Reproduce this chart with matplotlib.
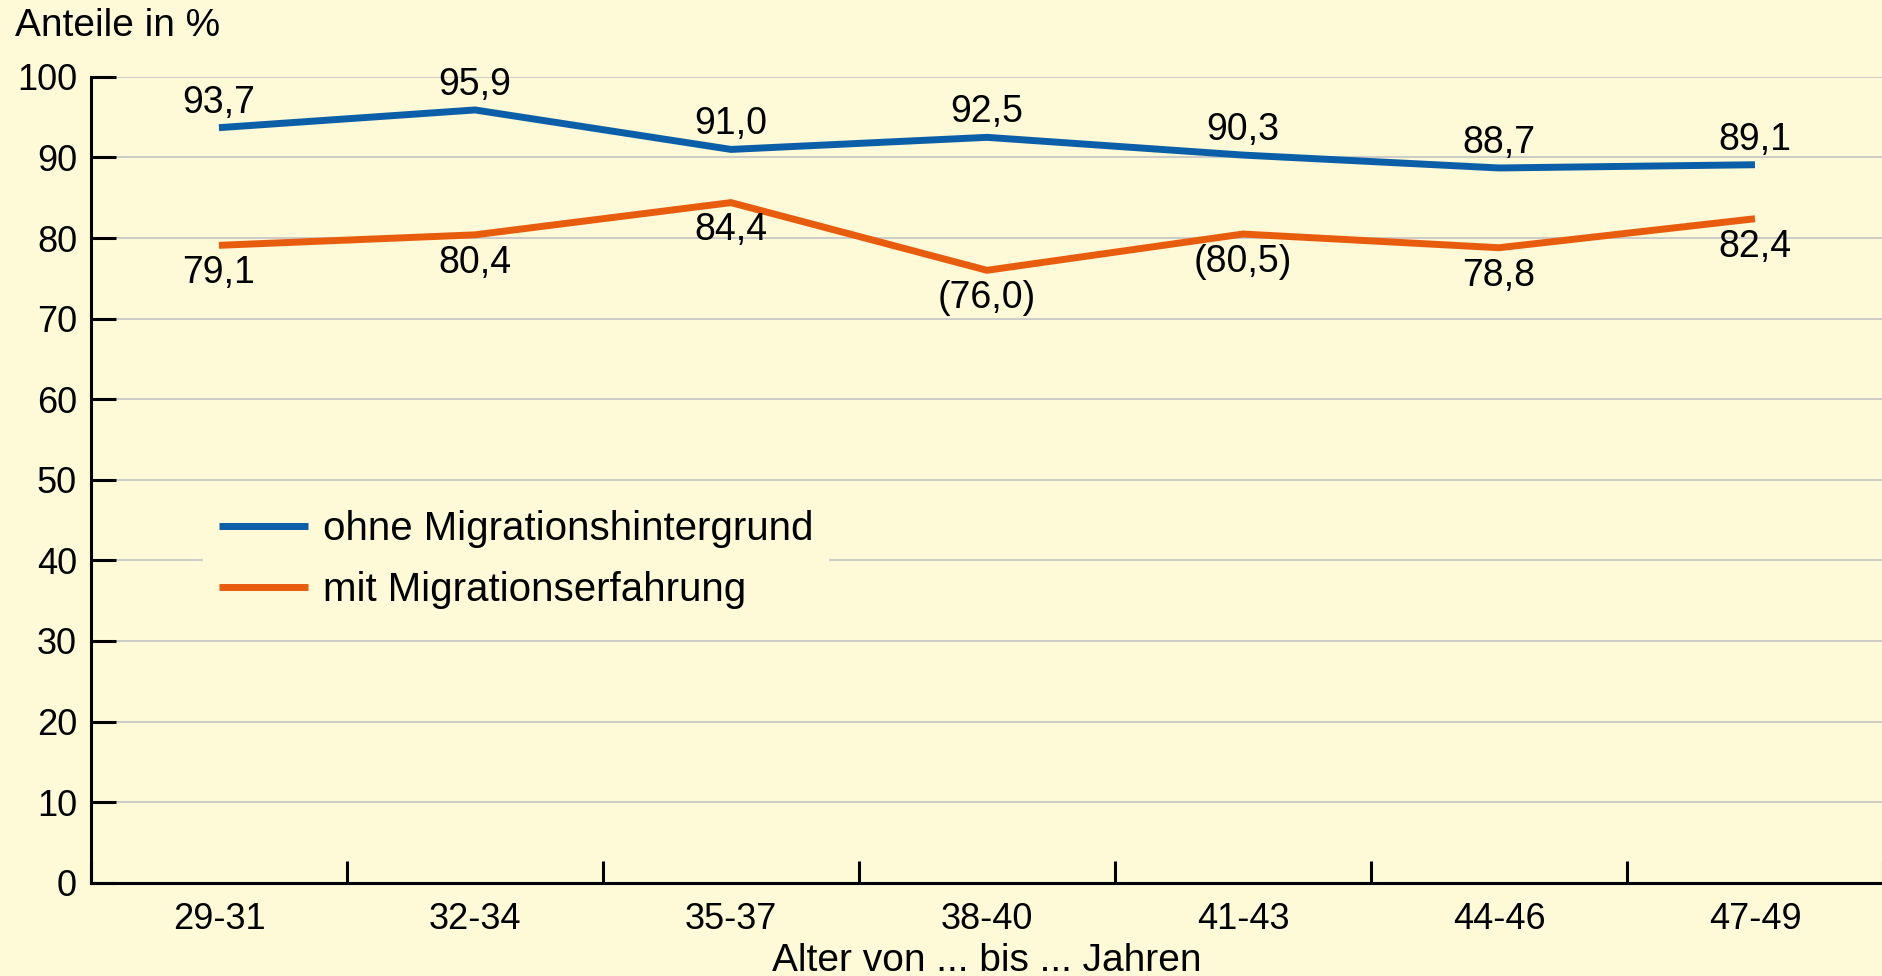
import matplotlib
matplotlib.use("Agg")
import matplotlib.pyplot as plt
import numpy as np

plt.rcParams['font.family'] = ['Liberation Sans', 'DejaVu Sans']

# data
alter = ["29-31", "32-34", "35-37", "38-40", "41-43", "44-46", "47-49"]
ohne = [93.7, 95.9, 91.0, 92.5, 90.3, 88.7, 89.1]
mit = [79.1, 80.4, 84.4, 76.0, 80.5, 78.8, 82.4]
ohne_labels = ["93,7", "95,9", "91,0", "92,5", "90,3", "88,7", "89,1"]
mit_labels = ["79,1", "80,4", "84,4", "(76,0)", "(80,5)", "78,8", "82,4"]
yticks = [0, 10, 20, 30, 40, 50, 60, 70, 80, 90, 100]

bg = '#fef9d6'
blue = '#0b5ea8'
orange = '#e85d0d'

fig = plt.figure(figsize=(18.83, 9.76), dpi=100, facecolor=bg)
ax = fig.add_axes([0.0483, 0.0956, 0.9517, 0.8256], facecolor=bg)

x = np.arange(len(alter))
ax.plot(x, ohne, color=blue, lw=5, solid_capstyle='butt', solid_joinstyle='miter',
        label='ohne Migrationshintergrund', zorder=3)
ax.plot(x, mit, color=orange, lw=5, solid_capstyle='butt', solid_joinstyle='miter',
        label='mit Migrationserfahrung', zorder=3)

for xi, v, t in zip(x, ohne, ohne_labels):
    ax.annotate(t, (xi, v), xytext=(0, 18), textcoords='offset points',
                ha='center', va='center', fontsize=27)
for xi, v, t in zip(x, mit, mit_labels):
    ax.annotate(t, (xi, v), xytext=(0, -20), textcoords='offset points',
                ha='center', va='center', fontsize=27)

ax.set_xlim(-0.5, len(alter) - 0.5)
ax.set_ylim(0, 100)
ax.set_yticks(yticks)
ax.set_yticklabels([str(t) for t in yticks], fontsize=26)
ax.tick_params(axis='y', direction='in', length=18, width=2.2, pad=10)
ax.set_xticks(x)
ax.set_xticklabels(alter, fontsize=26)
ax.set_xticks(np.arange(len(alter) + 1) - 0.5, minor=True)
ax.tick_params(axis='x', which='major', length=0, pad=14)
ax.tick_params(axis='x', which='minor', direction='in', length=16, width=2.2)

ax.grid(axis='y', color='#c8c8c8', lw=1.3, zorder=0)
ax.set_axisbelow(True)
for s in ['top', 'right']:
    ax.spines[s].set_visible(False)
for s in ['left', 'bottom']:
    ax.spines[s].set_linewidth(2.2)

ax.set_xlabel('Alter von ... bis ... Jahren', fontsize=28, labelpad=4)
fig.text(0.008, 0.973, 'Anteile in %', fontsize=28, va='center', ha='left')

leg = ax.legend(loc='upper left', bbox_to_anchor=(0.097, 0.515), bbox_transform=fig.transFigure,
                fontsize=29, frameon=True, facecolor=bg, edgecolor='none', framealpha=1,
                fancybox=False, handlelength=2.2, handletextpad=0.38, labelspacing=0.58,
                borderpad=0.4)

fig.savefig('out.png', dpi=100, facecolor=bg)
